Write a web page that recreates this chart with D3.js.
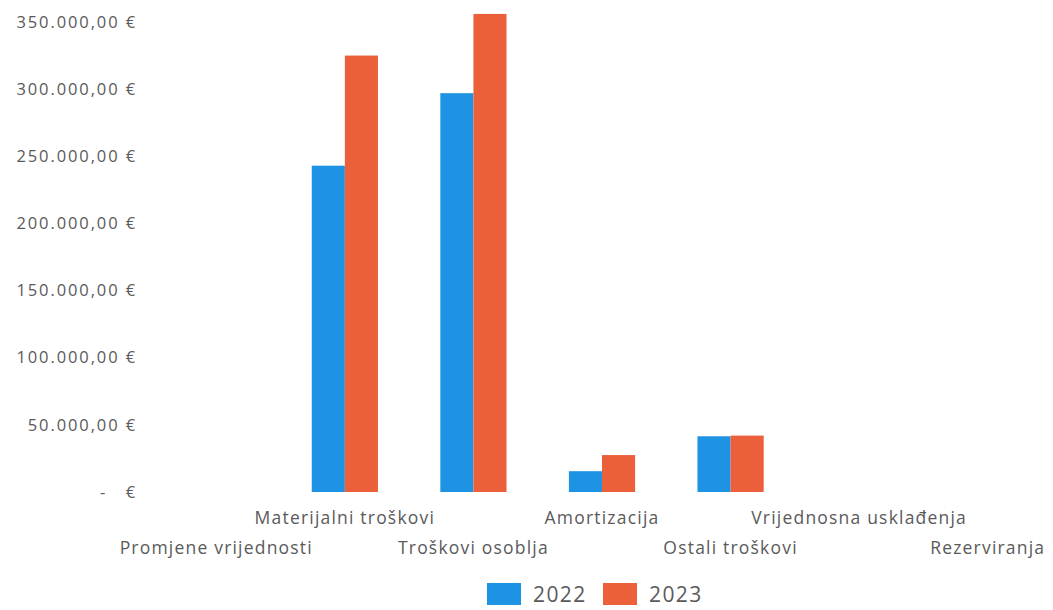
<!DOCTYPE html>
<html><head><meta charset="utf-8">
<script src="https://cdn.jsdelivr.net/npm/d3@7/dist/d3.min.js"></script>
<style>
body{margin:0;background:#fff;}
text{font-family:"Open Sans","Noto Sans",sans-serif;fill:#5a5a5a;}
</style></head>
<body><svg id="c" width="1053" height="610"></svg>
<script>
const categories = ["Promjene vrijednosti","Materijalni troškovi","Troškovi osoblja","Amortizacija","Ostali troškovi","Vrijednosna usklađenja","Rezerviranja"];
const series = ["2022","2023"];
const values2022 = [0, 243000, 297000, 15500, 41500, 0, 0];
const values2023 = [0, 325000, 356000, 27500, 42000, 0, 0];
const yTicks = [0,50000,100000,150000,200000,250000,300000,350000];
const colors = ["#1f93e3","#eb5f3a"];

const svg = d3.select("#c");
const x = d3.scaleBand().domain(categories).range([152,1052]).paddingInner(0.485).paddingOuter(0.2425);
const xs = d3.scaleBand().domain(series).range([0,x.bandwidth()]);
const y = d3.scaleLinear().domain([0,350000]).range([492,22]);

const fmt = v => v===0 ? "-   €" : d3.format(",.2f")(v).replace(/,/g,"#").replace(".",",").replace(/#/g,".") + " €";

// y labels
svg.append("g").selectAll("text").data(yTicks).join("text")
  .attr("x",137).attr("y",d=>y(d)).attr("dy","0.35em")
  .attr("text-anchor","end").attr("font-size",16.5)
  .attr("letter-spacing",1.9)
  .style("white-space","pre")
  .text(fmt);

// bars
const data = categories.map((c,i)=>({c, vals:[values2022[i],values2023[i]]}));
const g = svg.append("g");
data.forEach(d=>{
  d.vals.forEach((v,j)=>{
    if(v<=0) return;
    g.append("rect")
      .attr("x",x(d.c)+xs(series[j]))
      .attr("y",y(v))
      .attr("width",xs.bandwidth())
      .attr("height",y(0)-y(v))
      .attr("fill",colors[j]);
  });
});

// x labels staggered
svg.append("g").selectAll("text").data(categories).join("text")
  .attr("x",d=>x(d)+x.bandwidth()/2)
  .attr("y",(d,i)=> i%2===1 ? 524 : 554)
  .attr("text-anchor","middle").attr("font-size",17.5)
  .attr("letter-spacing",1.2)
  .text(d=>d);

// legend
const lg = svg.append("g");
const lx = [487,603];
series.forEach((s,j)=>{
  lg.append("rect").attr("x",lx[j]).attr("y",583).attr("width",34).attr("height",22).attr("fill",colors[j]);
  lg.append("text").attr("x",lx[j]+46).attr("y",594).attr("dy","0.36em").attr("font-size",21)
    .attr("letter-spacing",1.4).text(s);
});
</script></body></html>
